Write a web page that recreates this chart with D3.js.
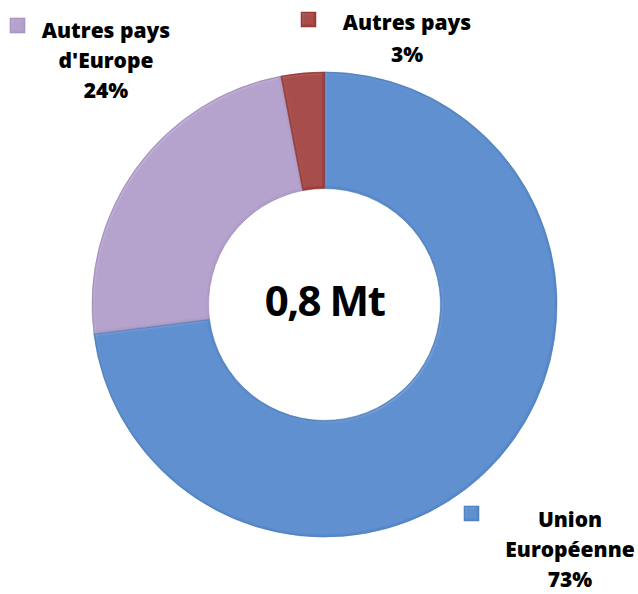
<!DOCTYPE html>
<html>
<head>
<meta charset="utf-8">
<script src="https://cdn.jsdelivr.net/npm/d3@7/dist/d3.min.js"></script>
<style>
html,body{margin:0;padding:0;background:#fff;}
svg{display:block;}
</style>
</head>
<body>
<svg id="chart" width="638" height="594"></svg>
<script>
const categories = ["Union Européenne", "Autres pays d'Europe", "Autres pays"];
const values = [73, 24, 3];
const labelLines = [["Union", "Européenne", "73%"], ["Autres pays", "d'Europe", "24%"], ["Autres pays", "3%"]];
const colors = ["#5589CB", "#B09DCA", "#A13C3A"];
const centerLabel = "0,8 Mt";

const svg = d3.select("#chart");
const cx = 324.5, cy = 304.5, R = 232.5, r = 116;

const defs = svg.append("defs");
const f = defs.append("filter").attr("id", "bevel").attr("x", "-10%").attr("y", "-10%").attr("width", "120%").attr("height", "120%");
f.append("feGaussianBlur").attr("in", "SourceAlpha").attr("stdDeviation", 1.2).attr("result", "blur");
f.append("feSpecularLighting").attr("in", "blur").attr("surfaceScale", 2).attr("specularConstant", 0.4)
  .attr("specularExponent", 20).attr("lighting-color", "#ffffff").attr("result", "spec")
  .append("feDistantLight").attr("azimuth", 225).attr("elevation", 50);
f.append("feComposite").attr("in", "spec").attr("in2", "SourceAlpha").attr("operator", "in").attr("result", "specOut");
f.append("feComposite").attr("in", "SourceGraphic").attr("in2", "specOut").attr("operator", "arithmetic")
  .attr("k1", 0).attr("k2", 1).attr("k3", 0.25).attr("k4", 0);

const pie = d3.pie().sort(null).value(d => d)(values);
const arc = d3.arc().innerRadius(r).outerRadius(R);

const g = svg.append("g").attr("transform", `translate(${cx},${cy})`);
g.selectAll("path").data(pie).enter().append("path")
  .attr("d", arc)
  .attr("fill", (d, i) => colors[i])
  .attr("stroke", (d, i) => d3.color(colors[i]).darker(0.5))
  .attr("stroke-width", 0.6)
  .attr("filter", "url(#bevel)");

g.append("text").attr("x", 0).attr("y", 11)
  .attr("text-anchor", "middle")
  .attr("font-family", "'Open Sans', sans-serif").attr("font-weight", 700)
  .attr("font-size", 42).attr("letter-spacing", -1.5).attr("fill", "#000")
  .text(centerLabel);

// labels: [markerX, markerY, textCenterX, firstBaseline]
const labelPos = [[464, 506, 570, 527], [10, 18, 106, 38], [301, 12, 407, 30]];
const lineH = 30;
labelPos.forEach((p, i) => {
  svg.append("rect").attr("x", p[0]).attr("y", p[1]).attr("width", 15).attr("height", 15)
    .attr("fill", colors[i]).attr("stroke", d3.color(colors[i]).darker(0.5)).attr("stroke-width", 0.5)
    .attr("filter", "url(#bevel)");
  const t = svg.append("text").attr("text-anchor", "middle")
    .attr("font-family", "'Open Sans', sans-serif").attr("font-weight", 800)
    .attr("font-size", 21).attr("fill", "#000");
  labelLines[i].forEach((line, j) => {
    t.append("tspan").attr("x", p[2]).attr("y", p[3] + j * (i === 2 ? 32 : lineH)).text(line);
  });
});
</script>
</body>
</html>
